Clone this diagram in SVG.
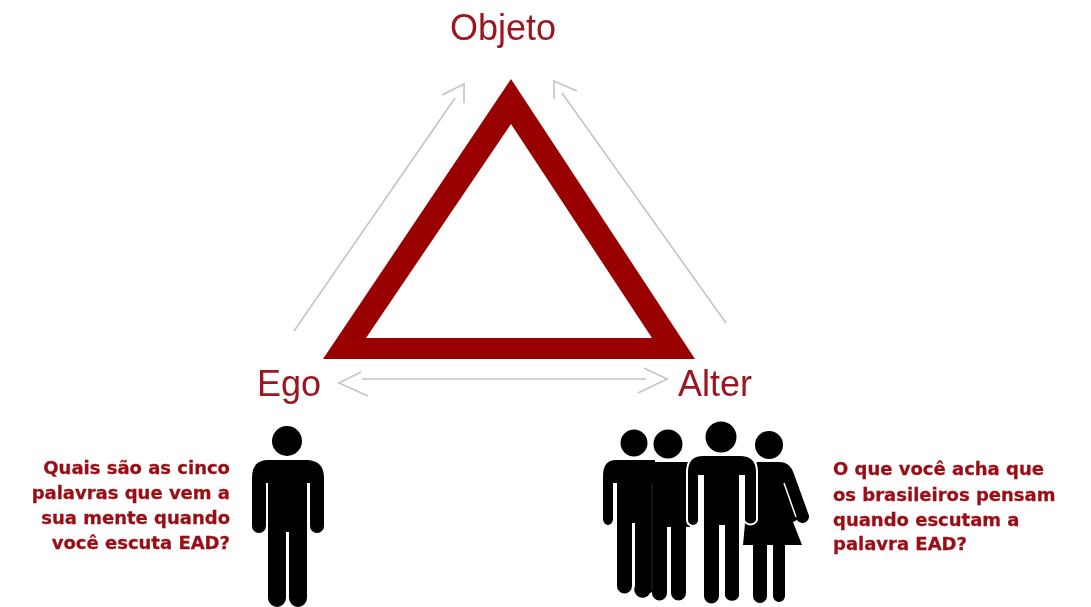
<svg xmlns="http://www.w3.org/2000/svg" width="1091" height="607" viewBox="0 0 1091 607">
<style>
.lbl{font-family:"Liberation Sans",Arial,sans-serif;font-size:36px;fill:#9c1520}
.q{font-family:"DejaVu Sans",sans-serif;font-weight:700;font-size:18px;fill:#990f14;stroke:#990f14;stroke-width:.3}
.arr{fill:none;stroke:#c6c6c6;stroke-width:1.7}
.fig{fill:#000}
</style>
<defs><filter id="soft" x="0" y="0" width="100%" height="100%"><feGaussianBlur stdDeviation="0.6"/></filter></defs>
<rect width="1091" height="607" fill="#fff"/>
<g filter="url(#soft)">
<g id="connectors">
<path class="arr" d="M294 331L455 98M442 95L464 84L464 103"/>
<path class="arr" d="M726 323L562 93M577 91L554 81L554 99"/>
<path class="arr" d="M362 379H646M361 372L339 383L368 396M644 368L667 379L638 393"/>
</g>
<g id="triangle"><path fill="#990000" fill-rule="evenodd" d="M511 79L695 359H323ZM511 124L366 338H652Z"/></g>
<g id="objeto"><text class="lbl" x="503" y="40" text-anchor="middle">Objeto</text></g>
<g id="ego"><text class="lbl" x="289" y="396" text-anchor="middle">Ego</text></g>
<g id="alter"><text class="lbl" x="715" y="396" text-anchor="middle">Alter</text></g>
<g id="person-ego">
<circle class="fig" cx="287" cy="441" r="15"/>
<path class="fig" d="M268 460H306Q324 460 324 478V526a7 7 0 0 1-14 0V483H307V598a9 9 0 0 1-18 0V532H286V598a9 9 0 0 1-18 0V483H266V526a7 7 0 0 1-14 0V478Q252 460 268 460Z"/>
</g>
<g id="person-group">
<circle class="fig" cx="634" cy="443" r="13.5"/>
<path class="fig" d="M616 460H655V586a7.500 7.500 0 0 1-5 7a7.500 7.500 0 0 1-15-7V523H632V586a7.500 7.500 0 0 1-15 0V483H613V519a5 6 0 0 1-10 0V476Q603 460 616 460Z"/>
<circle class="fig" cx="668" cy="444" r="14.500"/>
<path class="fig" d="M652 462H690V527H686V593a7.500 7.500 0 0 1-15 0V527H667V593a7.500 7.500 0 0 1-15 0Z"/>
<path d="M652 483V590" stroke="#333" stroke-width="1" fill="none"/>
<circle class="fig" cx="769" cy="445" r="14"/>
<path class="fig" d="M757 462H780Q790 462 794 474L808 513a6.500 6.500 0 0 1-11 7L793 522L802 545H785V596a6 6 0 0 1-12 0V545H767V596a7 7 0 0 1-14 0V545H743L750 470Z"/>
<path d="M784 483L796 517" stroke="#fff" stroke-width="1.500" fill="none"/>
<circle class="fig" cx="721" cy="437" r="15.500"/>
<path class="fig" stroke="#fff" stroke-width="2" d="M703 455H740Q757 455 757 472V520a7 7 0 0 1-13 0V476H740V596a8.500 8.500 0 0 1-16 0V526H720V596a8.500 8.500 0 0 1-17 0V476H699V520a6 6 0 0 1-12 0V472Q687 455 703 455Z"/>
</g>
<g id="question-ego" class="q" text-anchor="end">
<text x="230" y="474">Quais são as cinco</text>
<text x="230" y="499">palavras que vem a</text>
<text x="230" y="524">sua mente quando</text>
<text x="230" y="549">você escuta EAD?</text>
</g>
<g id="question-alter" class="q">
<text x="833" y="475">O que você acha que</text>
<text x="833" y="501">os brasileiros pensam</text>
<text x="833" y="526">quando escutam a</text>
<text x="833" y="550">palavra EAD?</text>
</g>
</g>
</svg>
